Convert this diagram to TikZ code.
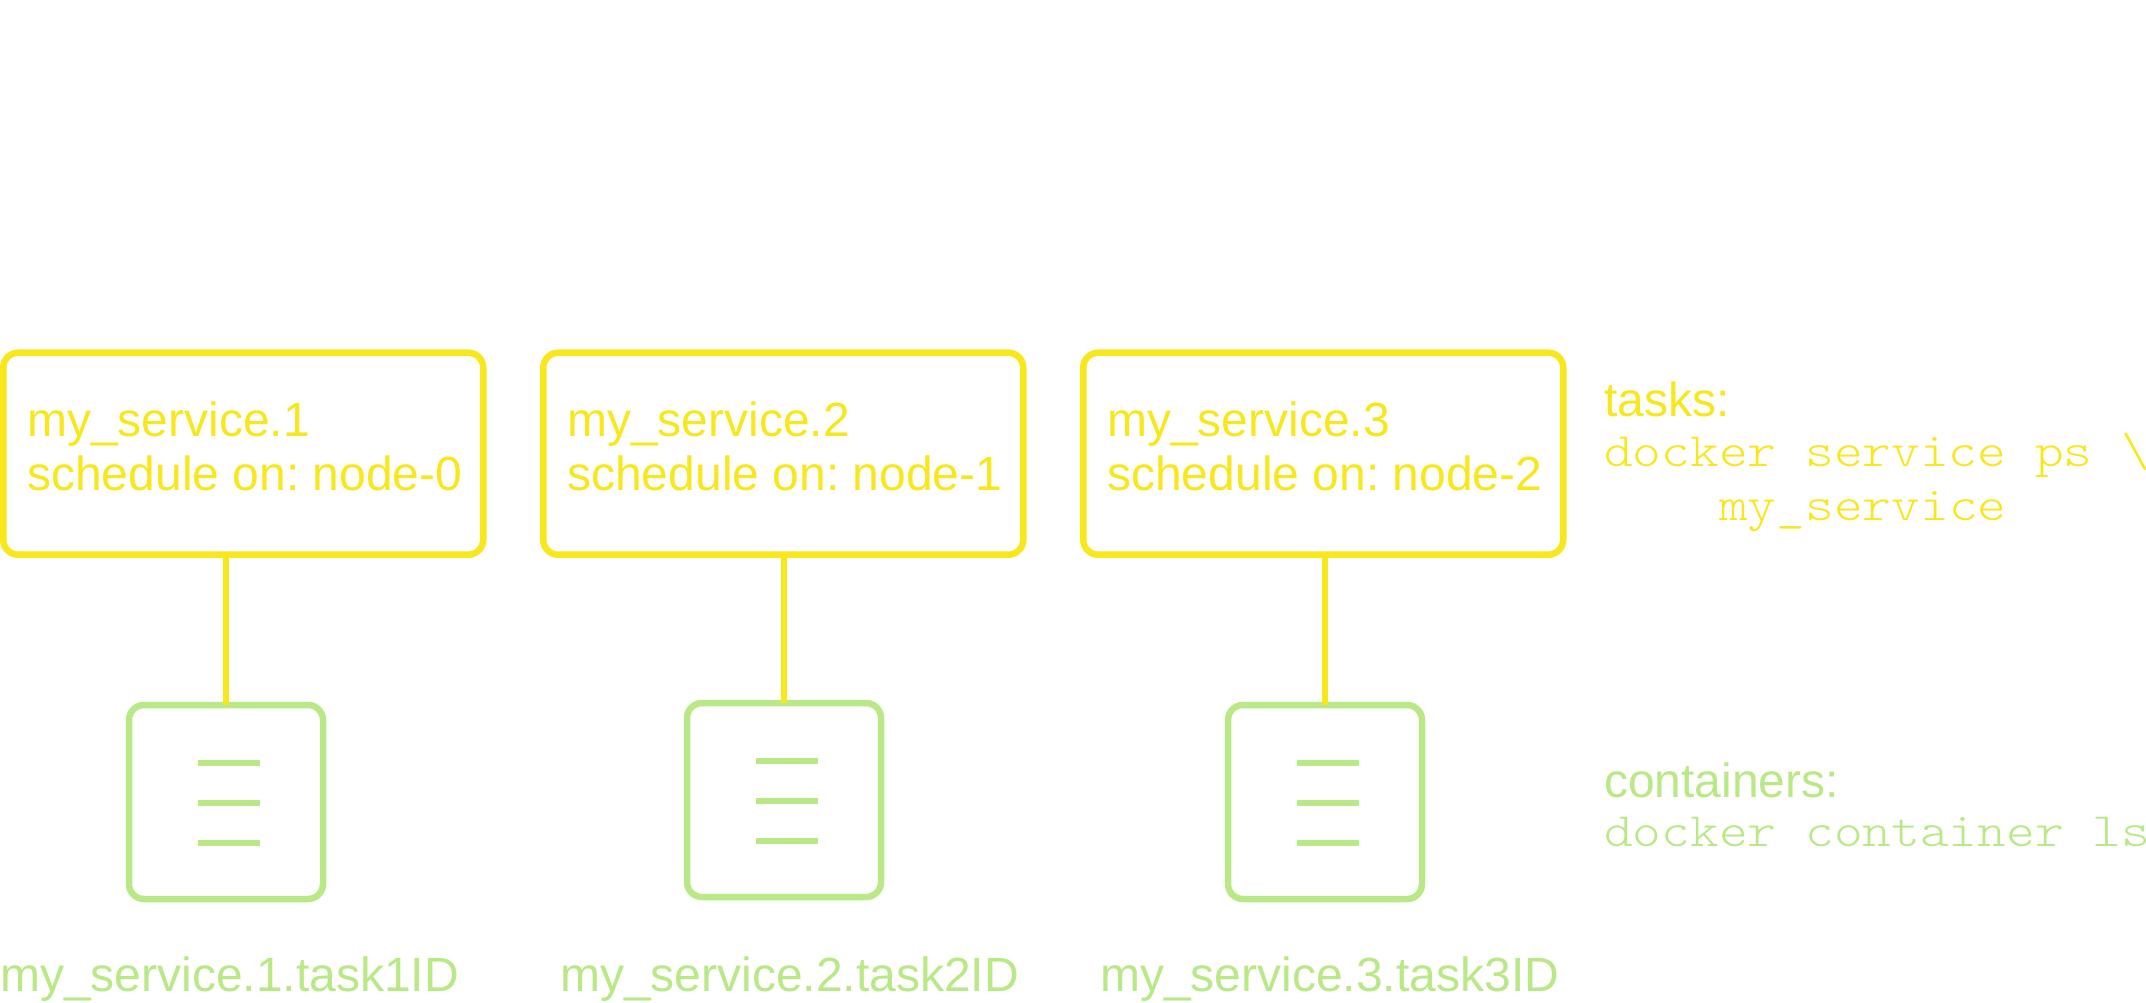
\documentclass[tikz,border=0pt]{standalone}
\usepackage{fontspec}
\setmainfont{Liberation Sans}
\newfontfamily\codefont[FakeStretch=1.14]{Latin Modern Mono Light}
\usepackage{tikz}
\usetikzlibrary{positioning}
\definecolor{taskyellow}{HTML}{F8E71C}
\definecolor{contgreen}{HTML}{B8E986}
\frenchspacing
\tikzset{
	bigtext/.style={font=\fontsize{48}{54}\selectfont},
	taskbox/.style={draw=taskyellow,text=taskyellow,line width=6.5pt,rounded corners=15pt,bigtext,outer sep=0pt,
		minimum width=480pt,minimum height=202pt,inner xsep=24pt,inner ysep=0pt,text width=432pt,align=flush left,
		execute at end node={\par\vspace*{14pt}}},
	contbox/.style={draw=contgreen,line width=6.5pt,rounded corners=15pt,outer sep=0pt,minimum size=194pt},
	link/.style={draw=taskyellow,line width=6pt},
	row/.style={draw=contgreen,line width=6pt},
	contname/.style={text=contgreen,bigtext,anchor=base west,inner sep=0pt},
	tasknote/.style={text=taskyellow,bigtext,anchor=base west,inner sep=0pt},
	contnote/.style={text=contgreen,bigtext,anchor=base west,inner sep=0pt},
	taskcode/.style={tasknote,font=\fontsize{48}{54}\codefont},
	contcode/.style={contnote,font=\fontsize{48}{54}\codefont}
}
\begin{document}
\begin{tikzpicture}[x=1pt,y=-1pt]
\useasboundingbox (0,0) rectangle (2146,1002);
% tasks
\node [taskbox] (t1) at (243.25,453.7) {my\_service.1\\\mbox{schedule on: node-0}};
\node [taskbox,right=60pt of t1] (t2) {my\_service.2\\\mbox{schedule on: node-1}};
\node [taskbox,right=60pt of t2] (t3) {my\_service.3\\\mbox{schedule on: node-2}};
% containers
\node [contbox] (c1) at (226,802) {};
\node [contbox] (c2) at (784,800) {};
\node [contbox] (c3) at (1325,802) {};
\draw [row] ([shift={(-28,-39)}]c1.center) -- ([shift={(34,-39)}]c1.center);
\draw [row] ([shift={(-28,1)}]c1.center) -- ([shift={(34,1)}]c1.center);
\draw [row] ([shift={(-28,41)}]c1.center) -- ([shift={(34,41)}]c1.center);
\draw [row] ([shift={(-28,-39)}]c2.center) -- ([shift={(34,-39)}]c2.center);
\draw [row] ([shift={(-28,1)}]c2.center) -- ([shift={(34,1)}]c2.center);
\draw [row] ([shift={(-28,41)}]c2.center) -- ([shift={(34,41)}]c2.center);
\draw [row] ([shift={(-28,-39)}]c3.center) -- ([shift={(34,-39)}]c3.center);
\draw [row] ([shift={(-28,1)}]c3.center) -- ([shift={(34,1)}]c3.center);
\draw [row] ([shift={(-28,41)}]c3.center) -- ([shift={(34,41)}]c3.center);
\draw [link] (c1.north |- t1.south) -- (c1.north);
\draw [link] (c2.north |- t2.south) -- (c2.north);
\draw [link] (c3.north |- t3.south) -- (c3.north);
% names under the containers
\node [contname] (n1) at (0,991) {my\_service.1.task1ID};
\node [contname] (n2) at (560,991) {my\_service.2.task2ID};
\node [contname] (n3) at (1100,991) {my\_service.3.task3ID};
% notes on the right
\node [tasknote] (tasks) at (1604,416) {tasks:};
\node [taskcode] (taskcmd) at (1604,466) {docker service ps \textbackslash};
\node [taskcode] (taskarg) at (1719,520) {my\_service};
\node [contnote] (conts) at (1604,797) {containers:};
\node [contcode] (contcmd) at (1604,846) {docker container ls};
\end{tikzpicture}
\end{document}
